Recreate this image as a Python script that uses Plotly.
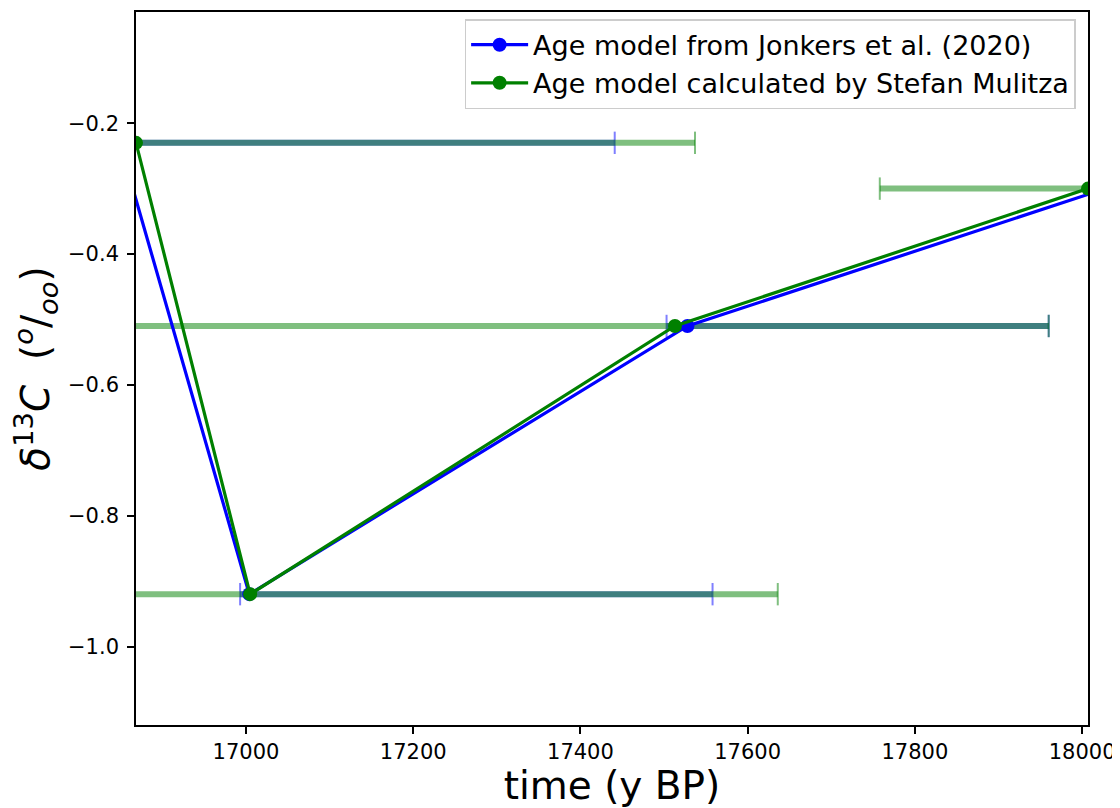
import plotly.graph_objects as go

# ---- data ----
d13c = [-0.23, -0.92, -0.51, -0.30]

age_jonkers = [16849, 17004, 17528, 18028]
err_jonkers_plus = [592, 554, 432, 400]
err_jonkers_minus = [20, 11, 25, 15]

age_mulitza = [16868.5, 17005, 17513, 18007]
err_mulitza_plus = [668.5, 631, 447, 200]
err_mulitza_minus = [300, 300, 700, 249]

x_ticks = [17000, 17200, 17400, 17600, 17800, 18000]
x_ticklabels = ["17000", "17200", "17400", "17600", "17800", "18000"]
y_ticks = [-1.0, -0.8, -0.6, -0.4, -0.2]
y_ticklabels = ["\u22121.0", "\u22120.8", "\u22120.6", "\u22120.4", "\u22120.2"]

label_jonkers = "Age model from Jonkers et al. (2020)"
label_mulitza = "Age model calculated by Stefan Mulitza"

BLUE = "#0000ff"
GREEN = "#008000"
BLUE_A = "rgba(0,0,255,0.5)"
GREEN_A = "rgba(0,128,0,0.5)"
FONT = "DejaVu Sans"

x_range = [min(age_mulitza), max(age_mulitza)]
y_range = [min(d13c) - 0.2, max(d13c) + 0.2]

fig = go.Figure()


def add_errorbars(ages, plus, minus, col):
    # horizontal bars
    fig.add_trace(go.Scatter(
        x=ages, y=d13c, mode="markers",
        marker=dict(size=1, color="rgba(0,0,0,0)"),
        error_x=dict(type="data", symmetric=False, array=plus, arrayminus=minus,
                     color=col, thickness=6, width=0),
        showlegend=False, hoverinfo="skip"))
    # caps
    cap_x = [a + p for a, p in zip(ages, plus)] + [a - m for a, m in zip(ages, minus)]
    cap_y = d13c + d13c
    fig.add_trace(go.Scatter(
        x=cap_x, y=cap_y, mode="markers",
        marker=dict(symbol="line-ns", size=16, line=dict(color=col, width=2)),
        showlegend=False, hoverinfo="skip"))


add_errorbars(age_jonkers, err_jonkers_plus, err_jonkers_minus, BLUE_A)
add_errorbars(age_mulitza, err_mulitza_plus, err_mulitza_minus, GREEN_A)

fig.add_trace(go.Scatter(
    x=age_jonkers, y=d13c, mode="lines+markers", name=label_jonkers,
    line=dict(color=BLUE, width=3.2), marker=dict(color=BLUE, size=14)))
fig.add_trace(go.Scatter(
    x=age_mulitza, y=d13c, mode="lines+markers", name=label_mulitza,
    line=dict(color=GREEN, width=3.2), marker=dict(color=GREEN, size=14)))

axis_common = dict(
    showgrid=False, zeroline=False, showline=True, linecolor="black",
    linewidth=1.6, mirror=True, ticks="outside", ticklen=7, tickwidth=1.6,
    tickcolor="black", tickfont=dict(family=FONT, size=21, color="black"),
)

fig.update_xaxes(
    range=x_range, tickmode="array", tickvals=x_ticks, ticktext=x_ticklabels,
    title=dict(text="time (y BP)", font=dict(family=FONT, size=39, color="black"),
               standoff=15),
    **axis_common)
fig.update_yaxes(
    range=y_range, tickmode="array", tickvals=y_ticks, ticktext=y_ticklabels,
    ticklabelstandoff=4,
    title=dict(text="<i>δ</i><sup>13</sup><i>C</i>  (<sup><i>o</i></sup>/<sub><i>oo</i></sub>)",
               font=dict(family=FONT, size=39, color="black"), standoff=10),
    **axis_common)

# the page body has an 8px margin, so the figure is 8px smaller and the
# left/top margins compensate for the offset
fig.update_layout(
    width=1112, height=800,
    margin=dict(l=128, r=32, t=2, b=81),
    plot_bgcolor="white", paper_bgcolor="white",
    font=dict(family=FONT, color="black"),
    legend=dict(x=0.987, y=0.99, xanchor="right", yanchor="top",
                bgcolor="rgba(255,255,255,0.8)", bordercolor="#cccccc",
                borderwidth=1.5, font=dict(family=FONT, size=27, color="black"),
                itemwidth=57),
)

fig.write_html("out.html")
